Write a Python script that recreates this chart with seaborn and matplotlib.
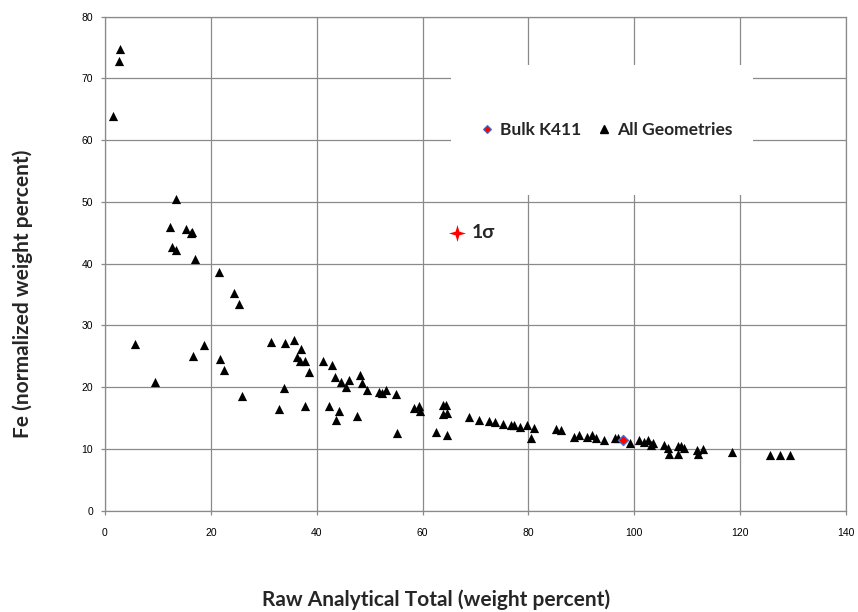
import matplotlib
matplotlib.use("Agg")
import matplotlib.pyplot as plt
from matplotlib.path import Path
from matplotlib.lines import Line2D
from matplotlib.patches import Rectangle
import seaborn as sns
import pandas as pd

# ---- data ----
geom_x = [2.75, 2.6, 1.5, 13.5,
          12.2, 15.3, 16.5, 16.3, 12.7, 13.4, 17.0, 21.5, 24.4, 25.4,
          5.6, 18.7, 16.6, 21.7, 22.5, 9.5, 25.8, 33.9,
          31.4, 34.0, 35.7, 37.1, 36.3, 36.9, 37.8, 38.5, 41.1, 42.9,
          43.5, 44.5, 46.1, 45.6, 48.1, 48.6, 49.5, 51.7, 52.4, 53.0, 54.9,
          32.9, 37.7, 42.3, 44.2, 43.7, 47.6, 55.1, 58.4, 59.3, 59.5,
          63.8, 64.5, 63.9, 64.7, 62.6, 64.7,
          68.7, 70.7, 72.6, 73.6, 75.2, 76.7, 77.3, 78.4, 79.7, 81.0, 80.5,
          85.3, 86.2, 88.7, 89.6, 91.1, 92.0, 92.8, 94.3, 96.3,
          97.0, 99.1, 100.8, 101.8, 102.6, 103.1, 103.5, 105.7, 106.4, 106.6,
          108.2, 108.8, 109.4, 108.2, 111.8, 112.1, 113.0, 118.5,
          125.6, 127.5, 129.4]
geom_y = [74.7, 72.8, 64.0, 50.4,
          45.9, 45.6, 45.2, 45.0, 42.7, 42.2, 40.8, 38.7, 35.3, 33.5,
          27.0, 26.9, 25.0, 24.5, 22.8, 20.8, 18.6, 19.8,
          27.4, 27.2, 27.6, 26.2, 24.9, 24.2, 24.2, 22.5, 24.3, 23.6,
          21.6, 20.9, 21.2, 20.0, 21.9, 20.7, 19.5, 19.3, 19.1, 19.5, 18.9,
          16.5, 16.9, 16.9, 16.2, 14.7, 15.4, 12.6, 16.7, 16.9, 16.1,
          17.1, 17.1, 15.7, 15.8, 12.7, 12.2,
          15.2, 14.7, 14.5, 14.4, 14.1, 13.8, 13.9, 13.6, 13.9, 13.4, 11.8,
          13.2, 13.0, 12.0, 12.2, 12.0, 12.2, 11.7, 11.5, 11.8,
          11.7, 10.9, 11.4, 11.2, 11.5, 10.7, 11.0, 10.7, 10.2, 9.2,
          10.5, 10.5, 10.2, 9.2, 9.8, 9.2, 10.0, 9.5,
          9.0, 9.0, 9.0]
bulk_x = [97.9]
bulk_y = [11.5]
sigma_x = [66.5]
sigma_y = [45.0]
x_ticks = [0, 20, 40, 60, 80, 100, 120, 140]
y_ticks = [0, 10, 20, 30, 40, 50, 60, 70, 80]
legend_labels = ["Bulk K411", "All Geometries"]
sigma_label = "1σ"
x_label = "Raw Analytical Total (weight percent)"
y_label = "Fe (normalized weight percent)"

sns.set_theme(style="whitegrid")
plt.rcParams["font.family"] = ["Liberation Sans", "DejaVu Sans"]

fig = plt.figure(figsize=(8.58, 6.12), dpi=100)
ax = fig.add_axes([105 / 858, 1 - 510.7 / 612, 741 / 858, 494 / 612])

geom_df = pd.DataFrame({"x": geom_x, "y": geom_y})
bulk_df = pd.DataFrame({"x": bulk_x, "y": bulk_y})
sigma_df = pd.DataFrame({"x": sigma_x, "y": sigma_y})

sns.scatterplot(data=geom_df, x="x", y="y", marker="^", color="black",
                s=44, linewidth=0, ax=ax, zorder=3)
sns.scatterplot(data=bulk_df, x="x", y="y", marker="D", color="red",
                edgecolor="#4a6fc0", linewidth=1.0, s=26, ax=ax, zorder=4)

star = Path([(0, 1), (0.22, 0.22), (1, 0), (0.22, -0.22), (0, -1),
             (-0.22, -0.22), (-1, 0), (-0.22, 0.22), (0, 1)],
            [Path.MOVETO] + [Path.LINETO] * 7 + [Path.CLOSEPOLY])
sns.scatterplot(data=sigma_df, x="x", y="y", marker=star, color="red",
                s=150, linewidth=0, ax=ax, zorder=4)
ax.annotate(sigma_label, (sigma_x[0], sigma_y[0]), xytext=(11, 0),
            textcoords="offset points", va="center", ha="left",
            fontsize=14, fontweight="bold", family=["Lato", "DejaVu Sans"])

ax.set_xlim(0, 140)
ax.set_ylim(0, 80)
ax.set_xticks(x_ticks)
ax.set_yticks(y_ticks)
ax.set_xticklabels([str(t) for t in x_ticks])
ax.set_yticklabels([str(t) for t in y_ticks])
ax.set_xlabel("")
ax.set_ylabel("")

gc = "#8a8a8a"
ax.grid(True, color=gc, linewidth=0.9)
for sp in ax.spines.values():
    sp.set_visible(True)
    sp.set_color(gc)
    sp.set_linewidth(0.9)
ax.tick_params(axis="both", which="both", direction="out", length=3,
               width=0.9, color=gc, labelsize=7.5, labelcolor="black")
ax.tick_params(axis="x", pad=9.5, bottom=True)
ax.tick_params(axis="y", pad=5.5, left=True)

# white legend area covering the gridlines
ax.add_patch(Rectangle((0.467, 0.639), 0.4075, 0.263, transform=ax.transAxes,
                       facecolor="white", edgecolor="none", zorder=1))
handles = [
    Line2D([], [], marker="D", color="none", markerfacecolor="red",
           markeredgecolor="#4a6fc0", markeredgewidth=0.8, markersize=4.5),
    Line2D([], [], marker="^", color="none", markerfacecolor="black",
           markeredgecolor="black", markersize=6),
]
leg = ax.legend(handles, legend_labels, loc="center",
                bbox_to_anchor=(0.676, 0.771), ncol=2, frameon=False,
                handlelength=0.8, handletextpad=0.35, columnspacing=0.9,
                prop={"family": ["Lato", "DejaVu Sans"], "weight": "bold",
                      "size": 12.5})
leg.set_zorder(5)

fig.text(436 / 858, 1 - 600 / 612, x_label, ha="center", va="center",
         fontsize=15, fontweight="bold", family=["Lato", "DejaVu Sans"])
fig.text(23 / 858, 1 - 294 / 612, y_label, ha="center", va="center",
         rotation=90, fontsize=15, fontweight="bold",
         family=["Lato", "DejaVu Sans"])

fig.savefig("out.png", dpi=100)
